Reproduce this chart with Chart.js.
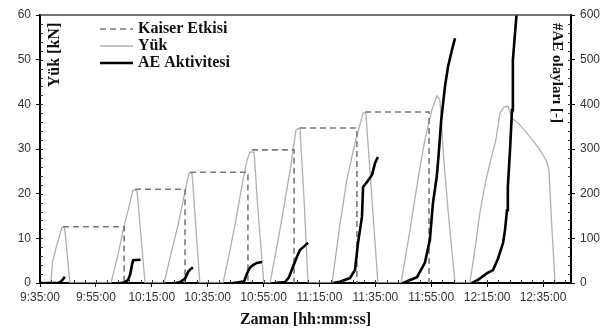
<!DOCTYPE html>
<html>
<head>
<meta charset="utf-8">
<script src="https://cdn.jsdelivr.net/npm/chart.js@4.4.0/dist/chart.umd.min.js"></script>
<style>
  body { margin: 0; background: #fff; }
  canvas { display: block; }
</style>
</head>
<body>
<canvas id="chart" width="602" height="331"></canvas>
<script>
// time in minutes after 9:35:00
var xTicks = [0, 20, 40, 60, 80, 100, 120, 140, 160, 180];
var xLabels = ['9:35:00', '9:55:00', '10:15:00', '10:35:00', '10:55:00', '11:15:00', '11:35:00', '11:55:00', '12:15:00', '12:35:00'];

// Yük [kN]
var loadT = [0, 3.9, 4.5, 5.7, 7.9, 8.8, 10.7,
  25.4, 27.9, 30.1, 31.1, 33.3, 34.7, 37.6,
  44.4, 47.2, 49.4, 51.5, 53.3, 54.4, 57.2,
  65.5, 68.0, 70.1, 72.3, 74.1, 75.1, 76.6, 78.0, 80.1,
  82.3, 85.2, 87.7, 89.8, 91.6, 93.0, 94.5, 95.9,
  104.5, 107.3, 109.8, 112.7, 115.6, 116.6, 118.8, 120.9,
  129.2, 132.4, 135.2, 137.7, 140.2, 142.0, 143.1, 144.5, 146.0, 148.5,
  153.8, 155.6, 157.4, 159.2, 161.0, 163.1, 164.6, 166.0, 167.4, 168.9, 171.7, 175.3, 178.9, 181.4, 182.1, 183.2, 184.3];
var loadV = [0, 0, 4.7, 7.8, 12.5, 12.5, 0,
  0, 6.3, 12.8, 15.2, 20.8, 20.8, 0,
  0, 7.4, 13.0, 19.3, 24.6, 24.6, 0,
  0, 7.4, 14.1, 21.9, 27.5, 29.3, 29.3, 16.3, 0,
  0, 9.6, 18.6, 26.4, 34.3, 34.7, 18.6, 0,
  0, 13.0, 23.1, 31.3, 38.1, 38.1, 18.6, 0,
  0, 11.9, 23.1, 32.0, 38.7, 41.9, 41.0, 27.5, 16.3, 0,
  0, 7.4, 15.7, 21.9, 26.9, 32.0, 38.1, 39.4, 39.6, 36.9, 35.4, 32.7, 29.8, 27.1, 25.3, 11.9, 0];

// Kaiser Etkisi [kN]
var kaiserT = [8.2, 30.1, 30.1, 30.1,
  34.0, 51.9, 51.9, 51.9,
  53.7, 74.4, 74.4, 74.4,
  75.8, 90.9, 90.9, 90.9,
  93.0, 113.4, 113.4, 113.4,
  116.3, 139.2, 139.2];
var kaiserV = [12.6, 12.6, 0, null,
  21.0, 21.0, 0, null,
  24.8, 24.8, 0, null,
  29.8, 29.8, 0, null,
  34.7, 34.7, 0, null,
  38.3, 38.3, 0];

// AE Aktivitesi [#]
var aeT = [0, 6.4, 7.2, 8.2, 8.9, 8.9,
  28.6, 30.1, 31.5, 32.3, 32.9, 33.3, 36.0, 36.0,
  48.7, 50.4, 51.9, 53.0, 53.7, 54.7, 54.7,
  69.0, 73.0, 74.1, 75.1, 76.2, 77.6, 79.4, 79.4,
  84.0, 87.7, 89.1, 90.5, 91.9, 93.0, 94.5, 95.9, 95.9,
  104.8, 107.3, 110.9, 112.7, 113.8, 115.2, 115.6, 117.0, 118.8, 119.9, 120.9, 120.9,
  129.9, 134.9, 137.7, 139.5, 140.6, 142.0, 142.8, 143.5, 144.9, 146.0, 147.4, 148.5, 148.5,
  154.6, 156.7, 160.0, 162.1, 163.9, 165.7, 166.4, 167.1, 167.4, 168.2, 168.9, 169.2, 170.5];
var aeN = [0, 0, 2, 8, 14, null,
  0, 1, 7, 20, 40, 51, 52, null,
  0, 3, 10, 25, 30, 35, null,
  0, 3, 22, 34, 40, 45, 47, null,
  0, 2, 13, 36, 58, 74, 82, 90, null,
  0, 3, 11, 29, 90, 148, 215, 226, 242, 269, 282, null,
  0, 13, 45, 96, 179, 240, 300, 360, 440, 484, 522, 548, null,
  0, 7, 22, 29, 55, 90, 119, 163, 215, 300, 387, 499, 600];

function pts(xs, ys){
  var out = [];
  for(var i = 0; i < xs.length; i++){
    out.push({x: xs[i], y: ys[i]});
  }
  return out;
}

var sansFont = 'Liberation Sans, Arial, sans-serif';
var serifFont = 'Liberation Serif, Times New Roman, serif';

var series = [
  {label: 'Kaiser Etkisi', color: '#7a7a7a', width: 1.6, dash: [6, 4]},
  {label: 'Yük', color: '#b0b0b0', width: 1.3, dash: []},
  {label: 'AE Aktivitesi', color: '#000000', width: 2.6, dash: []}
];

var decor = {
  id: 'decor',
  afterDraw: function(chart){
    var c = chart.ctx, a = chart.chartArea;
    var sx = chart.scales.x, sy = chart.scales.y, sy2 = chart.scales.y2;
    var v;
    c.save();
    // top frame line
    c.strokeStyle = '#444';
    c.lineWidth = 1.5;
    c.beginPath();
    c.moveTo(a.left, a.top);
    c.lineTo(a.right, a.top);
    c.stroke();

    // minor ticks
    c.strokeStyle = '#333';
    c.lineWidth = 1;
    c.beginPath();
    for(v = 4; v < 190; v += 4){
      var px = Math.round(sx.getPixelForValue(v)) + 0.5;
      c.moveTo(px, a.bottom);
      c.lineTo(px, a.bottom - 3);
    }
    for(v = 2; v < 60; v += 2){
      var py = Math.round(sy.getPixelForValue(v)) + 0.5;
      c.moveTo(a.left, py);
      c.lineTo(a.left + 3, py);
    }
    for(v = 20; v < 600; v += 20){
      var py2 = Math.round(sy2.getPixelForValue(v)) + 0.5;
      c.moveTo(a.right, py2);
      c.lineTo(a.right - 3, py2);
    }
    c.stroke();

    // axis titles inside the plot
    c.fillStyle = '#111';
    c.font = 'bold 16px ' + serifFont;
    c.textAlign = 'center';
    c.textBaseline = 'middle';
    c.save();
    c.translate(a.left + 15, a.top + 40);
    c.rotate(-Math.PI / 2);
    c.fillText('Yük [kN]', 0, 0);
    c.restore();
    c.save();
    c.translate(a.right - 14, a.top + 58);
    c.rotate(Math.PI / 2);
    c.font = 'bold 15px ' + serifFont;
    c.fillText('#AE olayları [-]', 0, 0);
    c.restore();

    // legend
    var lx = a.left + 60, ly = a.top + 14;
    c.textAlign = 'left';
    c.font = 'bold 16px ' + serifFont;
    for(var i = 0; i < series.length; i++){
      var s = series[i];
      var yy = ly + i * 17;
      c.strokeStyle = s.color;
      c.lineWidth = s.width;
      c.setLineDash(s.dash);
      c.beginPath();
      c.moveTo(lx, yy);
      c.lineTo(lx + 33, yy);
      c.stroke();
      c.setLineDash([]);
      c.fillStyle = '#111';
      c.fillText(s.label, lx + 38, yy);
    }
    c.restore();
  }
};

var ctx = document.getElementById('chart');
var chart = new Chart(ctx, {
  type: 'line',
  data: {
    datasets: [
      {
        label: series[2].label,
        data: pts(aeT, aeN),
        yAxisID: 'y2',
        borderColor: series[2].color,
        borderWidth: series[2].width,
        pointRadius: 0,
        fill: false,
        spanGaps: false
      },
      {
        label: series[0].label,
        data: pts(kaiserT, kaiserV),
        yAxisID: 'y',
        borderColor: series[0].color,
        borderWidth: series[0].width,
        borderDash: series[0].dash,
        pointRadius: 0,
        fill: false,
        spanGaps: false
      },
      {
        label: series[1].label,
        data: pts(loadT, loadV),
        yAxisID: 'y',
        borderColor: series[1].color,
        borderWidth: series[1].width,
        pointRadius: 0,
        fill: false
      }
    ]
  },
  options: {
    responsive: false,
    animation: false,
    devicePixelRatio: 1,
    layout: {padding: {top: 15, left: 0, right: 0, bottom: 0}},
    plugins: {legend: {display: false}, tooltip: {enabled: false}},
    scales: {
      x: {
        type: 'linear',
        min: 0,
        max: 190,
        afterBuildTicks: function(scale){
          scale.ticks = xTicks.map(function(v){ return {value: v}; });
        },
        afterFit: function(scale){ scale.height = 48; },
        ticks: {
          autoSkip: false,
          maxRotation: 0,
          padding: 3,
          color: '#333',
          font: {family: sansFont, size: 12},
          callback: function(v){ return xLabels[xTicks.indexOf(v)]; }
        },
        grid: {drawOnChartArea: false, tickLength: 4, color: '#000'},
        border: {color: '#000', width: 2},
        title: {
          display: true,
          text: 'Zaman [hh:mm:ss]',
          color: '#111',
          font: {family: serifFont, size: 16, weight: 'bold'},
          padding: {top: 0, bottom: 2}
        }
      },
      y: {
        position: 'left',
        min: 0,
        max: 60,
        afterFit: function(scale){ scale.width = 40; },
        ticks: {
          stepSize: 10,
          padding: 5,
          color: '#333',
          font: {family: sansFont, size: 12}
        },
        grid: {drawOnChartArea: false, tickLength: 4, color: '#000'},
        border: {color: '#000', width: 2}
      },
      y2: {
        position: 'right',
        min: 0,
        max: 600,
        afterFit: function(scale){ scale.width = 31; },
        ticks: {
          stepSize: 100,
          padding: 5,
          color: '#333',
          font: {family: sansFont, size: 12}
        },
        grid: {drawOnChartArea: false, tickLength: 4, color: '#000'},
        border: {color: '#000', width: 2}
      }
    }
  },
  plugins: [decor]
});
</script>
</body>
</html>
